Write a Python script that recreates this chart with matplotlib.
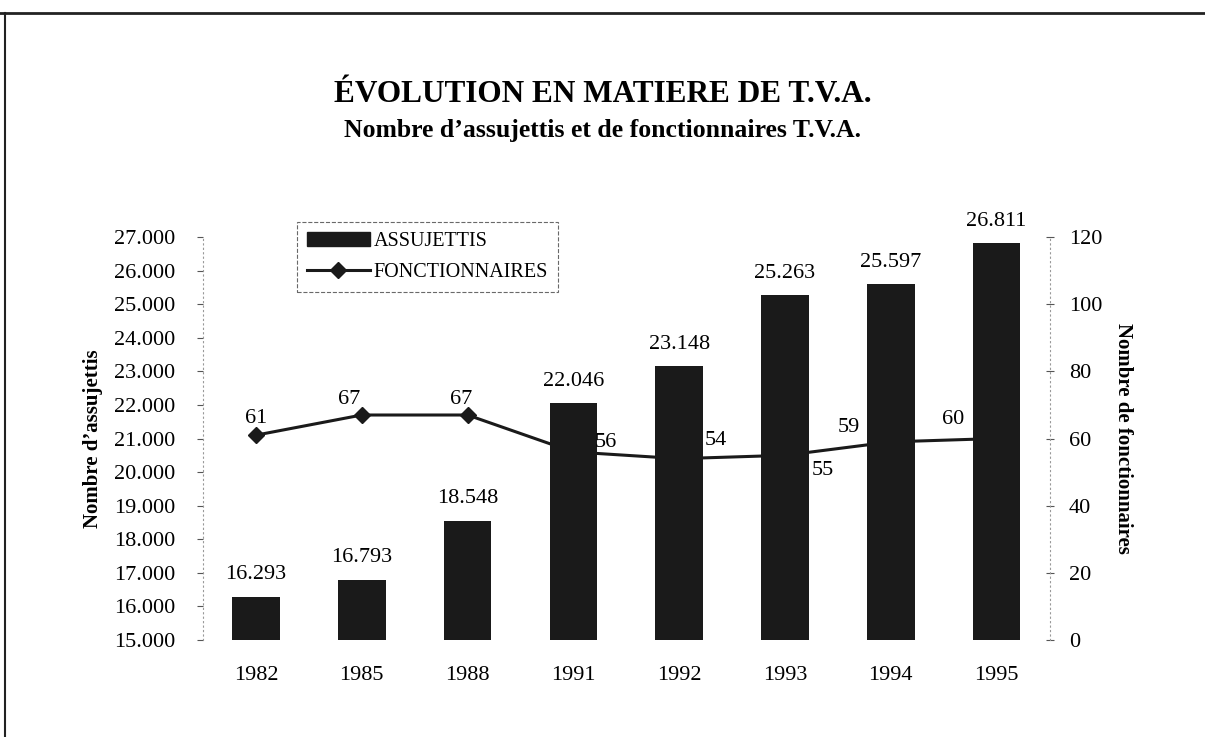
import matplotlib
matplotlib.use("Agg")
import matplotlib.pyplot as plt
from matplotlib.lines import Line2D
from matplotlib.patches import Patch

years = ["1982", "1985", "1988", "1991", "1992", "1993", "1994", "1995"]
assujettis = [16293, 16793, 18548, 22046, 23148, 25263, 25597, 26811]
fonctionnaires = [61, 67, 67, 56, 54, 55, 59, 60]
left_ticks = [15000, 16000, 17000, 18000, 19000, 20000, 21000, 22000, 23000, 24000, 25000, 26000, 27000]
right_ticks = [0, 20, 40, 60, 80, 100, 120]
# label offsets (points) for the line labels
line_label_offsets = [(0, 12), (-9, 11), (-5, 11), (23, 6.5), (26, 13), (27, -11), (-30, 10), (-31, 14)]

def fmt(v):
    return f"{v:,}".replace(",", ".")

plt.rcParams['font.family'] = ['Liberation Serif', 'DejaVu Serif']

fig = plt.figure(figsize=(12.05, 7.37), dpi=100)
ax = fig.add_axes([0.1685, 0.1316, 0.7025, 0.5468])
ax2 = ax.twinx()
# bars drawn in front of the line
ax.set_zorder(ax2.get_zorder() + 1)
ax.patch.set_visible(False)

x = list(range(len(years)))
ax.bar(x, assujettis, width=0.45, color='#1a1a1a', bottom=0)
ax.set_ylim(15000, 27000)
ax.set_xlim(-0.5, len(years) - 0.5)
ax.set_yticks(left_ticks)
ax.set_yticklabels([fmt(v) for v in left_ticks], fontsize=16)
ax.set_xticks(x)
ax.set_xticklabels(years, fontsize=16)
ax.tick_params(axis='x', length=0, pad=19)
ax.tick_params(axis='y', length=4, width=0.8, pad=16, color='#555555')
for i, v in enumerate(assujettis):
    ax.annotate(fmt(v), (i, v), xytext=(0, 9), textcoords='offset points',
                ha='center', va='bottom', fontsize=16)

ax2.plot(x, fonctionnaires, color='#1a1a1a', lw=2.2, marker='D', ms=8)
ax2.set_ylim(0, 120)
ax2.set_yticks(right_ticks)
ax2.set_yticklabels([str(v) for v in right_ticks], fontsize=16)
ax2.tick_params(axis='y', direction='inout', length=6, width=0.8, pad=11, color='#555555')
for i, v in enumerate(fonctionnaires):
    dx, dy = line_label_offsets[i]
    ax.annotate(str(v), (i, v), xycoords=ax2.transData, xytext=(dx, dy),
                textcoords='offset points', ha='center', va='center', fontsize=16)

for a in (ax, ax2):
    for s in ('top', 'bottom'):
        a.spines[s].set_visible(False)
    for s in ('left', 'right'):
        a.spines[s].set_color('#999999')
        a.spines[s].set_linestyle((0, (1, 3)))
        a.spines[s].set_linewidth(0.8)
ax2.spines['left'].set_visible(False)
ax.spines['right'].set_visible(False)

ax.set_ylabel("Nombre d\u2019assujettis", fontsize=15, fontweight='bold', labelpad=8)
ax2.set_ylabel("Nombre de fonctionnaires", fontsize=15, fontweight='bold', rotation=-90, labelpad=22)

handles = [Patch(facecolor='#1a1a1a', edgecolor='#1a1a1a'),
           Line2D([0], [0], color='#1a1a1a', lw=2.2, marker='D', ms=8)]
leg = fig.legend(handles, ["ASSUJETTIS", "FONCTIONNAIRES"], loc='upper left',
                 bbox_to_anchor=(297/1205, 1 - 222/737), fontsize=14.5, frameon=True,
                 fancybox=False, handlelength=3.1, handletextpad=0.2,
                 borderpad=0.5, labelspacing=0.6, borderaxespad=0)
leg.get_frame().set_edgecolor('#444444')
leg.get_frame().set_linestyle('--')
leg.get_frame().set_linewidth(0.8)

fig.text(0.5, 1 - 95/737, "\u00c9VOLUTION EN MATIERE DE T.V.A.", ha='center', va='center',
         fontsize=22.5, fontweight='bold')
fig.text(0.5, 1 - 131/737, "Nombre d\u2019assujettis et de fonctionnaires T.V.A.", ha='center',
         va='center', fontsize=18.5, fontweight='bold')

# page frame lines
fig.add_artist(Line2D([0, 1], [1 - 13/737, 1 - 13/737], color='#222222', lw=2, transform=fig.transFigure))
fig.add_artist(Line2D([5/1205, 5/1205], [0, 1 - 13/737], color='#222222', lw=1.5, transform=fig.transFigure))

fig.savefig("out.png", dpi=100)
